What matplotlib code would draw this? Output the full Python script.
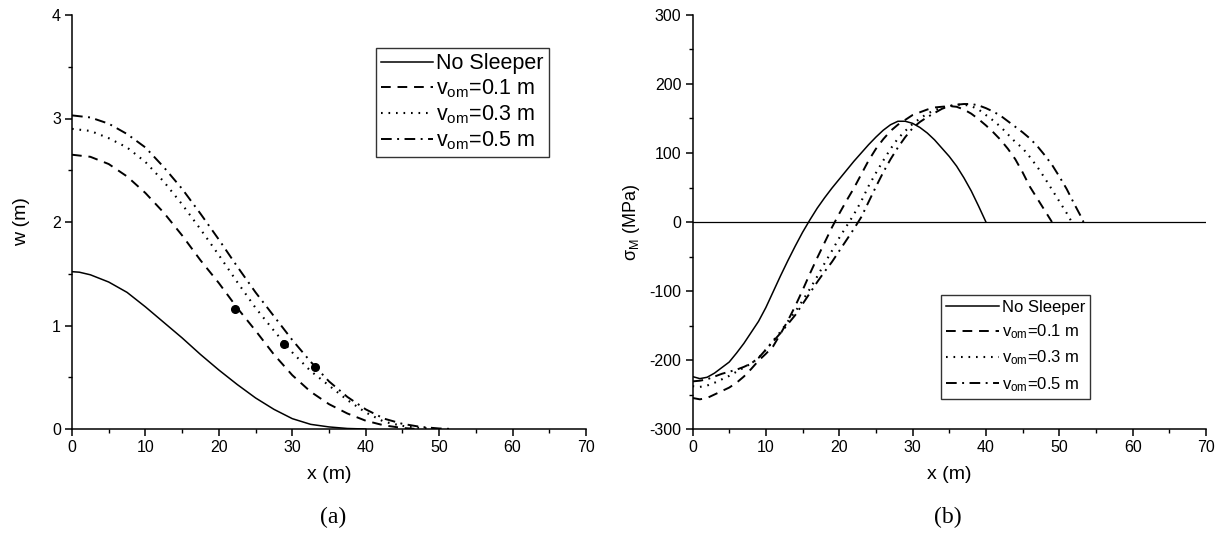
import matplotlib
matplotlib.use("Agg")
import matplotlib.pyplot as plt
from matplotlib.ticker import MultipleLocator

plt.rcParams['font.family'] = ['Liberation Sans', 'DejaVu Sans']
plt.rcParams['mathtext.fontset'] = 'custom'
plt.rcParams['mathtext.rm'] = 'Liberation Sans'
plt.rcParams['axes.unicode_minus'] = False

# ---------------- data: panel (a) ----------------
xa_ns = [0, 1, 2.5, 5, 7.5, 10, 12.5, 15, 17.5, 20, 22.5, 25, 27.5, 30, 32.5, 35, 37.5, 40]
wa_ns = [1.52, 1.515, 1.49, 1.42, 1.32, 1.18, 1.03, 0.88, 0.72, 0.57, 0.43, 0.30, 0.19, 0.10, 0.045, 0.02, 0.005, 0.0]

xa_01 = [0, 2.5, 5, 7.5, 10, 12.5, 15, 17.5, 20, 22.5, 25, 27.5, 30, 32.5, 35, 37.5, 40, 42.5, 45, 47]
wa_01 = [2.65, 2.63, 2.56, 2.44, 2.28, 2.09, 1.87, 1.63, 1.41, 1.17, 0.95, 0.72, 0.52, 0.36, 0.24, 0.15, 0.08, 0.035, 0.01, 0.0]

xa_03 = [0, 2.5, 5, 7.5, 10, 12.5, 15, 17.5, 20, 22.5, 25, 27.5, 30, 32.5, 35, 37.5, 40, 42.5, 45, 47.5, 50]
wa_03 = [2.90, 2.88, 2.81, 2.72, 2.58, 2.39, 2.17, 1.93, 1.68, 1.42, 1.17, 0.95, 0.74, 0.56, 0.42, 0.28, 0.16, 0.07, 0.03, 0.01, 0.0]

xa_05 = [0, 2.5, 5, 7.5, 10, 12.5, 15, 17.5, 20, 22.5, 25, 27.5, 30, 32.5, 35, 37.5, 40, 42.5, 45, 47.5, 50, 52]
wa_05 = [3.03, 3.01, 2.95, 2.85, 2.72, 2.53, 2.32, 2.08, 1.83, 1.57, 1.32, 1.09, 0.86, 0.65, 0.46, 0.31, 0.19, 0.10, 0.05, 0.02, 0.005, 0.0]

x_dots = [22.2, 28.9, 33.1]
w_dots = [1.16, 0.82, 0.60]

# ---------------- data: panel (b) ----------------
xb_ns = [0, 1, 2, 3, 4, 5, 6, 7, 8, 9, 10, 11, 12, 13, 14, 15, 16, 17, 18, 19, 20,
         21, 22, 23, 24, 25, 26, 27, 28, 29, 30, 31, 32, 33, 34, 35, 36, 37, 38, 39, 40]
sb_ns = [-224, -227, -225, -219, -211, -203, -190, -176, -160, -144, -124, -101, -78, -56, -35, -15, 3, 20, 35, 49, 62,
         75, 88, 100, 112, 123, 133, 141, 146, 146, 143, 137, 129, 119, 107, 95, 81, 64, 45, 23, 0]

xb_01 = [0, 1, 2, 3, 4, 5, 6, 7, 8, 9, 10, 11, 12, 13, 14, 15, 16, 17, 18, 19, 20, 21, 22, 23, 24,
         25, 26, 27, 28, 29, 30, 31, 32, 33, 34, 35, 36, 37, 38, 39, 40, 41, 42, 43, 44, 45, 46, 47, 48, 49]
sb_01 = [-255, -257, -255, -250, -245, -240, -233, -224, -213, -201, -191, -180, -162, -143, -122, -99, -75, -52, -30, -8,
         12, 31, 49, 69, 89, 106, 120, 132, 141, 148, 155, 159, 163, 166, 167, 168, 167, 163, 157, 149,
         140, 130, 119, 106, 91, 72, 51, 34, 17, 0]

xb_03 = [0, 1, 2, 3, 4, 5, 6, 7, 8, 9, 10, 11, 12, 13, 14, 15, 16, 17, 18, 19, 20, 21, 22, 23, 24, 25,
         26, 27, 28, 29, 30, 31, 32, 33, 34, 35, 36, 37, 38, 39, 40, 41, 42, 43, 44, 45, 46, 47, 48, 49, 50, 51, 51.7]
sb_03 = [-238, -239, -237, -233, -228, -223, -217, -211, -205, -197, -185, -172, -159, -144, -130, -114, -97, -79, -60,
         -42, -23, -6, 11, 30, 52, 71, 89, 106, 121, 132, 142, 150, 157, 162, 166, 168, 170, 170, 168, 163,
         155, 147, 138, 127, 116, 107, 94, 80, 64, 47, 30, 13, 0]

xb_05 = [0, 1, 2, 3, 4, 5, 6, 7, 8, 9, 10, 11, 12, 13, 14, 15, 16, 17, 18, 19, 20, 21, 22, 23, 24, 25, 26,
         27, 28, 29, 30, 31, 32, 33, 34, 35, 36, 37, 38, 39, 40, 41, 42, 43, 44, 45, 46, 47, 48, 49, 50, 51, 52, 53, 53.3]
sb_05 = [-231, -230, -228, -224, -220, -217, -214, -210, -205, -197, -185, -173, -161, -148, -135, -119, -103, -87, -72,
         -58, -42, -26, -10, 7, 29, 51, 72, 91, 108, 123, 136, 145, 152, 158, 164, 168, 170, 171, 171, 169,
         165, 160, 154, 146, 138, 130, 121, 110, 97, 83, 66, 48, 27, 7, 0]

labels = ['No Sleeper', r'$\mathregular{v_{om}}$=0.1 m', r'$\mathregular{v_{om}}$=0.3 m',
          r'$\mathregular{v_{om}}$=0.5 m']

# ---------------- figure ----------------
fig = plt.figure(figsize=(12.31, 5.39), dpi=100)
axA = fig.add_axes([72 / 1231, 1 - 429 / 539, (586 - 72) / 1231, (429 - 15) / 539])
axB = fig.add_axes([692.5 / 1231, 1 - 429 / 539, (1206 - 692.5) / 1231, (429 - 15) / 539])

st_solid = dict(color='black', lw=1.1, ls='-')
st_dash = dict(color='black', lw=1.4, ls=(0, (5, 3.5)))
st_dot = dict(color='black', lw=1.5, ls=(0, (0.8, 2.8)))
st_dd = dict(color='black', lw=1.4, ls=(0, (5.5, 2.8, 1.0, 2.8)))

axA.plot(xa_ns, wa_ns, label=labels[0], **st_solid)
axA.plot(xa_01, wa_01, label=labels[1], **st_dash)
axA.plot(xa_03, wa_03, label=labels[2], **st_dot)
axA.plot(xa_05, wa_05, label=labels[3], **st_dd)
axA.plot(x_dots, w_dots, 'o', color='black', ms=5.5)

axB.axhline(0, color='black', lw=0.9)
axB.plot(xb_ns, sb_ns, label=labels[0], **st_solid)
axB.plot(xb_01, sb_01, label=labels[1], **st_dash)
axB.plot(xb_03, sb_03, label=labels[2], **st_dot)
axB.plot(xb_05, sb_05, label=labels[3], **st_dd)

for ax in (axA, axB):
    ax.set_xlim(0, 70)
    ax.xaxis.set_major_locator(MultipleLocator(10))
    ax.xaxis.set_minor_locator(MultipleLocator(5))
    for s in ('top', 'right'):
        ax.spines[s].set_visible(False)
    for s in ('left', 'bottom'):
        ax.spines[s].set_linewidth(1.1)
    ax.tick_params(which='major', direction='out', length=5, width=1.1, labelsize=11.5, pad=3)
    ax.tick_params(which='minor', direction='out', length=3, width=1.0)
    ax.set_xlabel('x (m)', fontsize=14, labelpad=8)

axA.set_ylim(0, 4)
axA.yaxis.set_major_locator(MultipleLocator(1))
axA.yaxis.set_minor_locator(MultipleLocator(0.5))
axA.set_ylabel('w (m)', fontsize=14, labelpad=16)

axB.set_ylim(-300, 300)
axB.yaxis.set_major_locator(MultipleLocator(100))
axB.yaxis.set_minor_locator(MultipleLocator(50))
axB.set_ylabel(r'σ$_\mathregular{M}$ (MPa)', fontsize=13, labelpad=5)

legA = axA.legend(loc='upper left', bbox_to_anchor=((376 - 72) / 514, 1 - (48 - 15) / 414),
                  fontsize=15.5, frameon=True, fancybox=False, edgecolor='black', handlelength=2.4,
                  handletextpad=0.15, borderpad=0.25, labelspacing=0.15, borderaxespad=0)
legB = axB.legend(loc='upper left', bbox_to_anchor=((941 - 692.5) / 513.5, 1 - (295 - 15) / 414),
                  fontsize=12, frameon=True, fancybox=False, edgecolor='black', handlelength=3.2,
                  handletextpad=0.15, borderpad=0.3, labelspacing=0.45, borderaxespad=0)
for lg in (legA, legB):
    lg.get_frame().set_linewidth(1.0)

fig.text(333 / 1231, 1 - 517 / 539, '(a)', ha='center', va='center', fontsize=17, family='Liberation Serif')
fig.text(948 / 1231, 1 - 517 / 539, '(b)', ha='center', va='center', fontsize=17, family='Liberation Serif')

fig.savefig('out.png', dpi=100)
